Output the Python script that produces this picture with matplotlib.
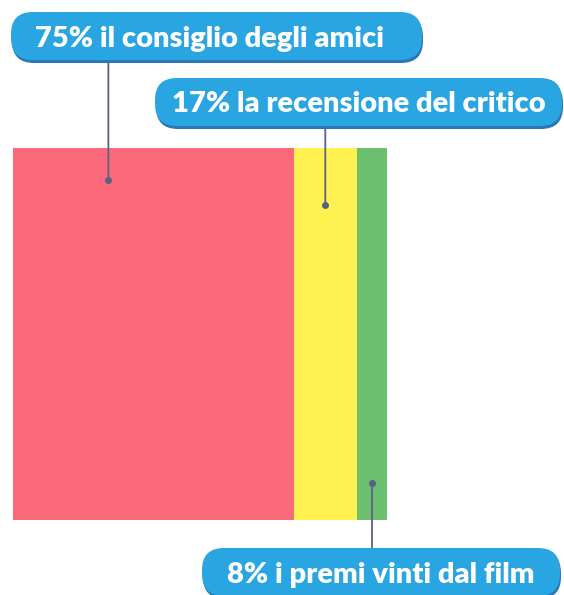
import matplotlib.pyplot as plt
from matplotlib.patches import FancyBboxPatch

# data
categories = ["il consiglio degli amici", "la recensione del critico", "i premi vinti dal film"]
shares = [75, 17, 8]
colors = ["#fb6a7a", "#fff150", "#6bbf6f"]

# where the leader line touches each segment (fraction of segment width, bar height)
anchor_frac = [0.34, 0.5, 0.5]
anchor_y = [0.915, 0.847, 0.10]

# label boxes in figure pixels: left, right, top-from-top, bottom-from-top
boxes = [(11, 422, 12, 60), (155, 562, 78, 126), (202, 560, 548, 596)]

W, H = 564, 595
fig = plt.figure(figsize=(W / 100, H / 100), dpi=100)
fig.patch.set_facecolor("white")

ax = fig.add_axes([13 / W, (H - 520) / H, 374 / W, 372 / H])
left = 0
for val, col in zip(shares, colors):
    ax.barh(0.5, val, left=left, height=1, color=col, edgecolor="none")
    left += val
ax.set_xlim(0, 100)
ax.set_ylim(0, 1)
ax.axis("off")

starts = [sum(shares[:i]) for i in range(len(shares))]

for i, (cat, val) in enumerate(zip(categories, shares)):
    x0, x1, t, b = boxes[i]
    # shadow + box
    sh = FancyBboxPatch((x0 + 1, H - b - 3), x1 - x0, b - t,
                        boxstyle="round,pad=0,rounding_size=22",
                        transform=None, facecolor="#2a78b8", edgecolor="none", zorder=3)
    bx = FancyBboxPatch((x0, H - b), x1 - x0, b - t,
                        boxstyle="round,pad=0,rounding_size=22",
                        transform=None, facecolor="#29a6e2", edgecolor="none", zorder=4)
    fig.patches.extend([sh, bx])
    fig.text((x0 + x1) / 2 / W + (-0.012 if i == 0 else 0.0), (H - (t + b) / 2) / H,
             f"{val}% {cat}", color="white", fontsize=21, fontweight="heavy",
             family=["Lato", "DejaVu Sans"], ha="center", va="center_baseline", zorder=5)

    ax_x = starts[i] + anchor_frac[i] * val
    ly = H - b if i < 2 else H - t
    ax.annotate("", xy=(ax_x, anchor_y[i]), xytext=(ax_x, ly),
                textcoords=("data", "figure pixels"),
                arrowprops=dict(arrowstyle="-", color="#5a6185", lw=1.3,
                                shrinkA=0, shrinkB=0), annotation_clip=False)
    ax.plot(ax_x, anchor_y[i], "o", color="#5a6185", ms=4, clip_on=False)

fig.savefig("out.png", dpi=100)
